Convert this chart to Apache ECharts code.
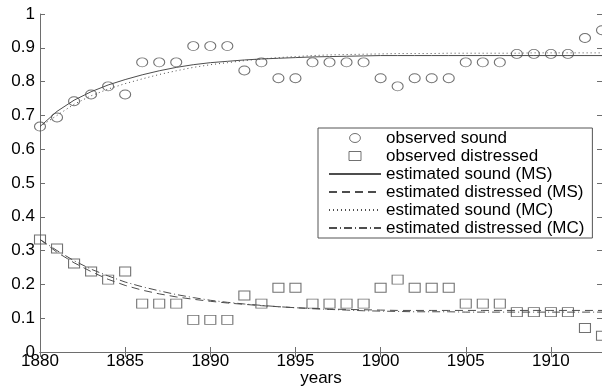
<!DOCTYPE html>
<html>
<head>
<meta charset="utf-8">
<script src="https://cdn.jsdelivr.net/npm/echarts@6/dist/echarts.min.js"></script>
<style>
html,body{margin:0;padding:0;background:#fff;}
#chart{width:602px;height:387px;}
</style>
</head>
<body>
<div id="chart"></div>
<script>
var years = [1880,1881,1882,1883,1884,1885,1886,1887,1888,1889,1890,1891,1892,1893,1894,1895,1896,1897,1898,1899,1900,1901,1902,1903,1904,1905,1906,1907,1908,1909,1910,1911,1912,1913];
var observedSound = [0.667,0.694,0.742,0.762,0.786,0.762,0.857,0.857,0.857,0.905,0.905,0.905,0.833,0.857,0.810,0.810,0.857,0.857,0.857,0.857,0.810,0.786,0.810,0.810,0.810,0.857,0.857,0.857,0.882,0.882,0.882,0.882,0.929,0.952];
var observedDistressed = [0.333,0.306,0.262,0.238,0.214,0.238,0.143,0.143,0.143,0.095,0.095,0.095,0.167,0.143,0.190,0.190,0.143,0.143,0.143,0.143,0.190,0.214,0.190,0.190,0.190,0.143,0.143,0.143,0.118,0.118,0.118,0.118,0.071,0.048];
var estSoundMS = [0.667,0.712,0.745,0.770,0.790,0.806,0.820,0.832,0.842,0.850,0.856,0.860,0.864,0.867,0.869,0.871,0.873,0.874,0.875,0.876,0.877,0.877,0.877,0.877,0.877,0.877,0.877,0.877,0.877,0.877,0.877,0.877,0.877,0.877];
var estDistressedMS = [0.333,0.295,0.264,0.238,0.215,0.197,0.183,0.172,0.163,0.156,0.150,0.145,0.141,0.137,0.134,0.131,0.129,0.127,0.126,0.125,0.124,0.123,0.123,0.123,0.123,0.123,0.123,0.123,0.123,0.123,0.123,0.123,0.123,0.123];
var estSoundMC = [0.667,0.700,0.733,0.758,0.778,0.794,0.808,0.821,0.832,0.842,0.850,0.856,0.862,0.867,0.871,0.874,0.877,0.879,0.880,0.881,0.882,0.883,0.883,0.883,0.884,0.884,0.884,0.884,0.884,0.885,0.885,0.885,0.885,0.885];
var estDistressedMC = [0.333,0.300,0.270,0.245,0.225,0.207,0.193,0.181,0.170,0.161,0.153,0.147,0.142,0.138,0.134,0.131,0.128,0.126,0.124,0.122,0.121,0.120,0.119,0.119,0.119,0.118,0.118,0.118,0.118,0.118,0.118,0.118,0.118,0.118];
var xTicks = [1880,1885,1890,1895,1900,1905,1910];
var seriesNames = ['observed sound','observed distressed','estimated sound (MS)','estimated distressed (MS)','estimated sound (MC)','estimated distressed (MC)'];

function pairs(vals){ return years.map(function(y,i){ return [y, vals[i]]; }); }

var FONT = 'Liberation Sans, Arial, sans-serif';
var AX = '#6e6e6e';
var INK = '#4d4d4d';
var CLEAR = 'rgba(0,0,0,0)';

var chart = echarts.init(document.getElementById('chart'), null, {renderer:'canvas'});
var xBase = {
  type:'value', min:1880, max:1913, interval:5,
  axisLine:{show:true, lineStyle:{color:AX, width:1}},
  axisTick:{show:true, inside:true, length:5, lineStyle:{color:AX}},
  splitLine:{show:false}
};
var yBase = {
  type:'value', min:0, max:1, interval:0.1,
  axisLine:{show:true, lineStyle:{color:AX, width:1}},
  axisTick:{show:true, inside:true, length:5, lineStyle:{color:AX}},
  splitLine:{show:false}
};
function lineSeries(name, vals, dash){
  return {
    name:name, type:'line', xAxisIndex:0, yAxisIndex:0,
    data:pairs(vals), symbol:'none', smooth:false, silent:true,
    lineStyle:{color:INK, width:1, type:dash},
    itemStyle:{color:INK}, z:3
  };
}
var hiddenDot = {color:CLEAR, borderColor:CLEAR, borderWidth:0};
var hollow = {color:CLEAR, borderColor:INK, borderWidth:1};
var option = {
  animation:false,
  backgroundColor:'#fff',
  grid:{left:40, right:0, top:14, bottom:35, outerBoundsMode:'none', containLabel:false},
  xAxis:[
    Object.assign({}, xBase, {
      position:'bottom',
      name:'years', nameLocation:'middle', nameGap:18, nameMoveOverlap:false,
      nameTextStyle:{color:'#000', fontSize:17, fontFamily:FONT},
      axisLabel:{show:true, color:'#000', fontSize:17, fontFamily:FONT, margin:1,
        formatter:function(v){ return xTicks.indexOf(v) >= 0 ? String(v) : ''; }}
    }),
    Object.assign({}, xBase, {position:'top', axisLabel:{show:false}})
  ],
  yAxis:[
    Object.assign({}, yBase, {
      position:'left',
      axisLabel:{show:true, color:'#000', fontSize:17, fontFamily:FONT, margin:5}
    }),
    Object.assign({}, yBase, {position:'right', axisLabel:{show:false}})
  ],
  legend:{
    orient:'vertical', left:318, top:128,
    data:[
      {name:seriesNames[0], icon:'path://M6,0A6,5,0,1,1,5.99,0Z', itemStyle:hollow},
      {name:seriesNames[1], icon:'path://M0,0L12,0L12,9L0,9Z', itemStyle:hollow},
      {name:seriesNames[2], itemStyle:hiddenDot},
      {name:seriesNames[3], itemStyle:hiddenDot},
      {name:seriesNames[4], itemStyle:hiddenDot},
      {name:seriesNames[5], itemStyle:hiddenDot}
    ],
    itemWidth:52, itemHeight:9, itemGap:0,
    padding:[1,8,1,10],
    backgroundColor:'#fff', borderColor:'#555', borderWidth:1, borderRadius:0,
    textStyle:{color:'#000', fontSize:17, fontFamily:FONT, lineHeight:18, height:18},
    selectedMode:false
  },
  series:[
    {
      name:seriesNames[0], type:'scatter', data:pairs(observedSound),
      symbol:'circle', symbolSize:[11,9], clip:false, silent:true,
      itemStyle:hollow, z:4
    },
    {
      name:seriesNames[1], type:'scatter', data:pairs(observedDistressed),
      symbol:'rect', symbolSize:[11,9], clip:false, silent:true,
      itemStyle:hollow, z:4
    },
    lineSeries(seriesNames[2], estSoundMS, 'solid'),
    lineSeries(seriesNames[3], estDistressedMS, [8,5]),
    lineSeries(seriesNames[4], estSoundMC, [1,3]),
    lineSeries(seriesNames[5], estDistressedMC, [8,3,1,3])
  ]
};
chart.setOption(option);
</script>
</body>
</html>
